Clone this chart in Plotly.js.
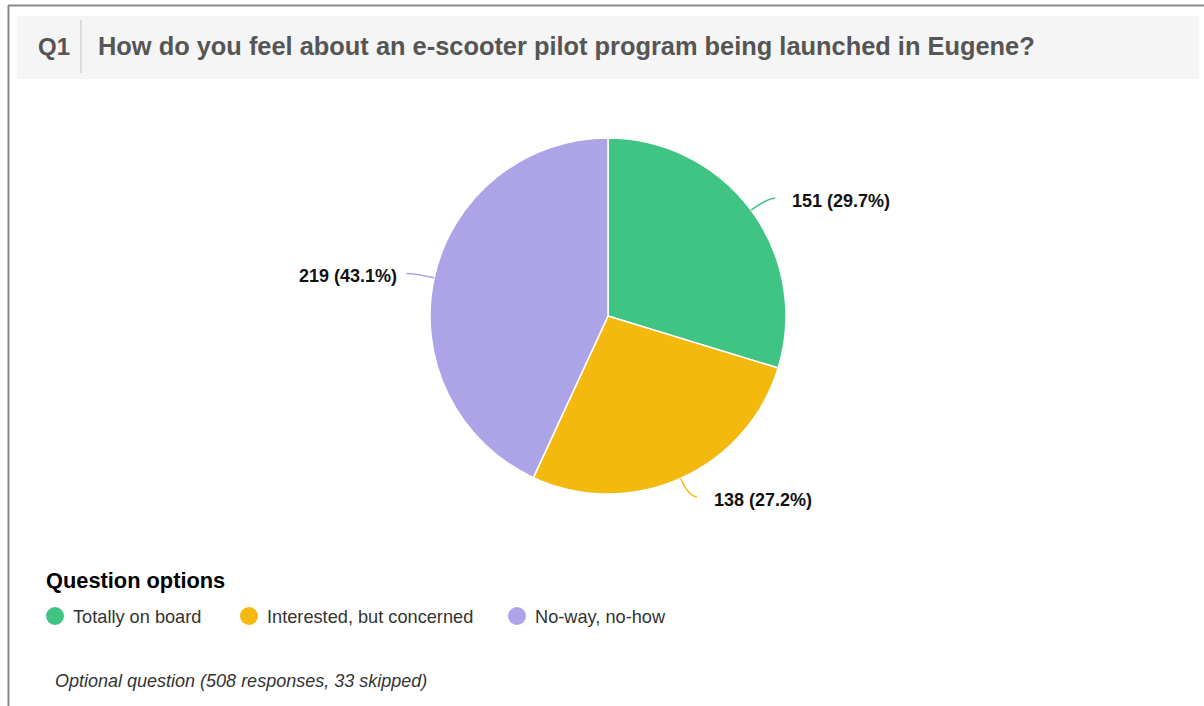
<!DOCTYPE html>
<html>
<head>
<meta charset="utf-8">
<script src="https://cdn.plot.ly/plotly-3.0.1.min.js"></script>
<style>
  html, body { margin: 0; padding: 0; background: #ffffff; }
  #chart { width: 1204px; height: 706px; }
</style>
</head>
<body>
<div id="chart"></div>
<script>
// ---- Data ----
const questionNumber = "Q1";
const questionText = "How do you feel about an e-scooter pilot program being launched in Eugene?";
const categories = ["Totally on board", "Interested, but concerned", "No-way, no-how"];
const responseCounts = [151, 138, 219];
const sliceColors = ["#40c483", "#f3b90f", "#aca4e6"];
const legendTitle = "Question options";
const footerText = "Optional question (508 responses, 33 skipped)";

// ---- Layout helpers (pixel -> paper) ----
const W = 1204, H = 706;
const px = x => x / W;
const py = y => 1 - y / H;
const FONT = "Liberation Sans, Arial, Helvetica, sans-serif";

// pie geometry (pixels)
const cx = 608, cy = 316, R = 178;

const total = responseCounts.reduce((a, b) => a + b, 0);

const shapes = [];
const annotations = [];

// frame
shapes.push({type: "line", xref: "paper", yref: "paper", x0: px(8), x1: px(1204), y0: py(5.5), y1: py(5.5), line: {color: "#8a8a8a", width: 2}});
shapes.push({type: "line", xref: "paper", yref: "paper", x0: px(8.5), x1: px(8.5), y0: py(5), y1: py(706), line: {color: "#8a8a8a", width: 2}});
// title band
shapes.push({type: "rect", xref: "paper", yref: "paper", x0: px(17), x1: px(1199), y0: py(16), y1: py(79), fillcolor: "#f5f5f5", line: {width: 0}, layer: "below"});
shapes.push({type: "line", xref: "paper", yref: "paper", x0: px(81), x1: px(81), y0: py(20), y1: py(73), line: {color: "#dcdcdc", width: 2}});

annotations.push({xref: "paper", yref: "paper", x: px(36), y: py(46), xanchor: "left", yanchor: "middle", showarrow: false,
  text: "<b>" + questionNumber + "</b>", font: {family: FONT, size: 24, color: "#555555"}});
annotations.push({xref: "paper", yref: "paper", x: px(96), y: py(46), xanchor: "left", yanchor: "middle", showarrow: false,
  text: "<b>" + questionText + "</b>", font: {family: FONT, size: 25.4, color: "#555555"}});

// slice labels with connectors, computed from the data
let cum = 0;
responseCounts.forEach((v, i) => {
  const mid = (cum + v / 2) / total * 2 * Math.PI;
  cum += v;
  const s = Math.sin(mid), c = Math.cos(mid);
  const ex = cx + R * s, ey = cy - R * c;
  const ctrlx = cx + (R + 20) * s, ctrly = cy - (R + 20) * c;
  const right = s >= 0;
  const endx = ctrlx + (right ? 8 : -8), endy = ctrly;
  shapes.push({type: "path", xref: "paper", yref: "paper",
    path: `M ${px(ex)} ${py(ey)} Q ${px(ctrlx)} ${py(ctrly)} ${px(endx)} ${py(endy)}`,
    line: {color: sliceColors[i], width: 1.5}});
  const pct = (v / total * 100).toFixed(1);
  annotations.push({xref: "paper", yref: "paper", x: px(endx + (right ? 15 : -8)), y: py(endy + 3),
    xanchor: right ? "left" : "right", yanchor: "middle", showarrow: false,
    text: "<b>" + v + " (" + pct + "%)</b>", font: {family: FONT, size: 18, color: "#111111"}});
});

// legend
annotations.push({xref: "paper", yref: "paper", x: px(44), y: py(580), xanchor: "left", yanchor: "middle", showarrow: false,
  text: "<b>" + legendTitle + "</b>", font: {family: FONT, size: 21.8, color: "#000000"}});
const legendCircleX = [55, 249, 517];
categories.forEach((cat, i) => {
  const x = legendCircleX[i];
  shapes.push({type: "circle", xref: "paper", yref: "paper", x0: px(x - 9), x1: px(x + 9), y0: py(607), y1: py(625),
    fillcolor: sliceColors[i], line: {width: 0}});
  annotations.push({xref: "paper", yref: "paper", x: px(x + 16), y: py(617), xanchor: "left", yanchor: "middle", showarrow: false,
    text: cat, font: {family: FONT, size: 18.2, color: "#333333"}});
});

// footer
annotations.push({xref: "paper", yref: "paper", x: px(53), y: py(681), xanchor: "left", yanchor: "middle", showarrow: false,
  text: "<i>" + footerText + "</i>", font: {family: FONT, size: 18, color: "#333333"}});

const trace = {
  type: "pie",
  labels: categories,
  values: responseCounts,
  sort: false,
  direction: "clockwise",
  rotation: 0,
  textinfo: "none",
  hoverinfo: "label+value+percent",
  marker: {colors: sliceColors, line: {color: "#ffffff", width: 1.5}},
  domain: {x: [px(cx - R), px(cx + R)], y: [py(cy + R), py(cy - R)]},
  showlegend: false
};

const layout = {
  width: W, height: H,
  margin: {l: 0, r: 0, t: 0, b: 0},
  paper_bgcolor: "#ffffff",
  plot_bgcolor: "#ffffff",
  showlegend: false,
  shapes: shapes,
  annotations: annotations,
  font: {family: FONT}
};

Plotly.newPlot("chart", [trace], layout, {displayModeBar: false, staticPlot: true});
</script>
</body>
</html>
